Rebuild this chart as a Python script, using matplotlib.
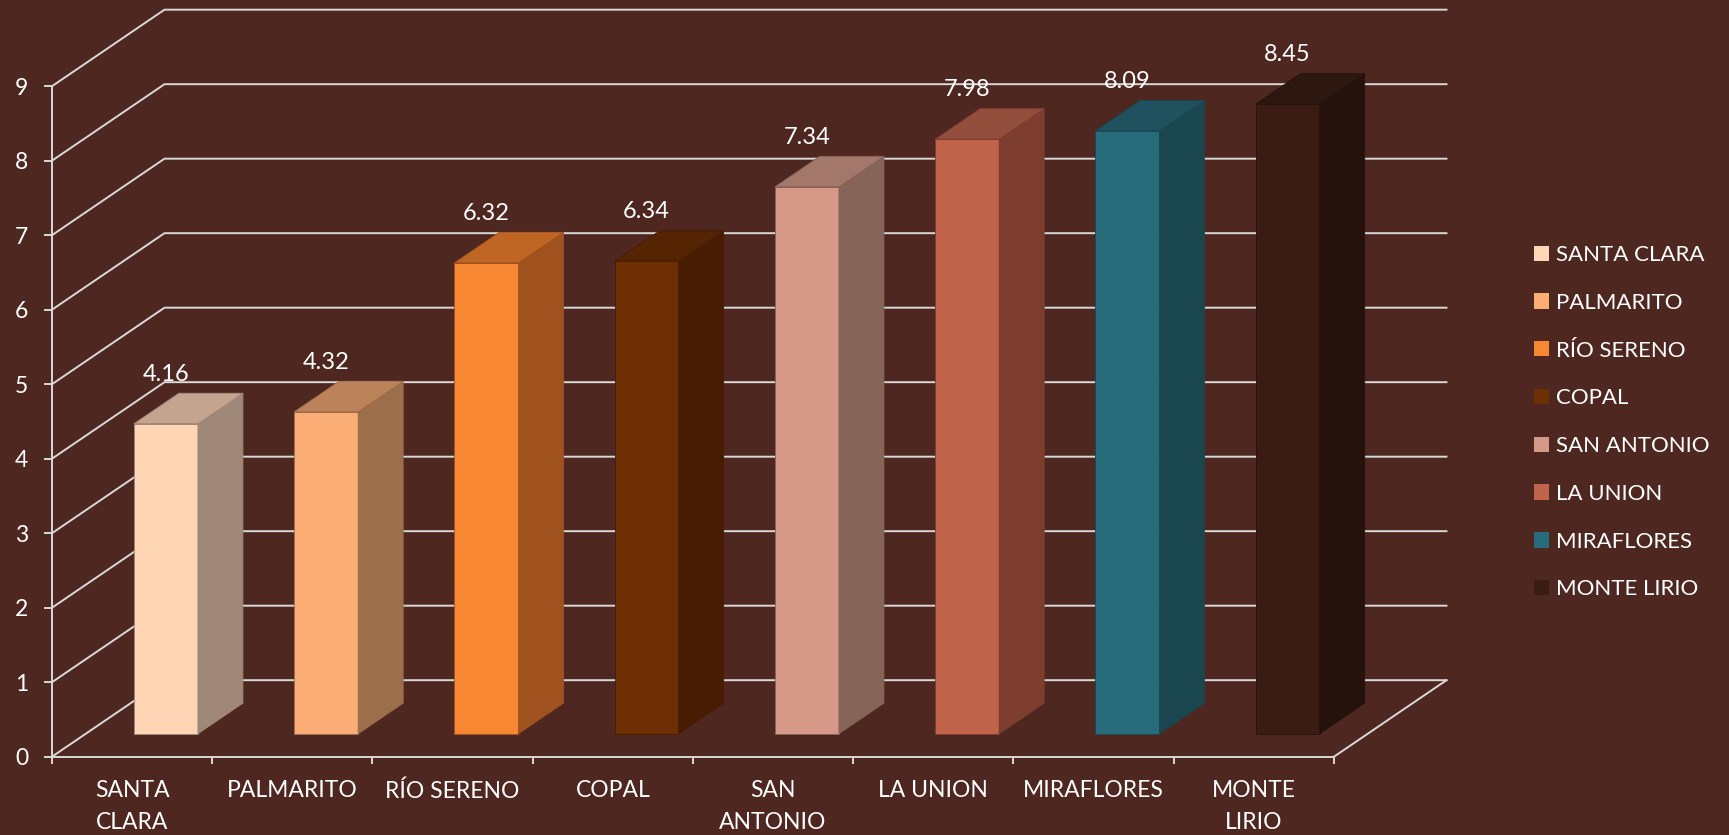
import matplotlib.pyplot as plt
from matplotlib.patches import Patch

categories = ['SANTA CLARA', 'PALMARITO', 'RÍO SERENO', 'COPAL',
              'SAN ANTONIO', 'LA UNION', 'MIRAFLORES', 'MONTE LIRIO']
tick_labels = ['SANTA\nCLARA', 'PALMARITO', 'RÍO SERENO', 'COPAL',
               'SAN\nANTONIO', 'LA UNION', 'MIRAFLORES', 'MONTE\nLIRIO']
values = [4.16, 4.32, 6.32, 6.34, 7.34, 7.98, 8.09, 8.45]
yticks = list(range(10))

front_colors = ['#FED6B6', '#FAAE76', '#F88731', '#6F2F05',
                '#D69887', '#C0654C', '#276C7B', '#3A1C15']
side_colors = ['#A08878', '#9C6E4A', '#A0521E', '#471C02',
               '#876458', '#7D3D2F', '#1A4650', '#25120D']
top_colors = ['#C4A48E', '#BC825A', '#BF6624', '#552403',
              '#A3786B', '#934E3C', '#1F525E', '#2D1711']

bg = '#4E2720'
grid_c = '#D9D9D9'
plt.rcParams['font.family'] = ['Lato', 'DejaVu Sans']

DX, DY = 0.702, 1.027   # offset of back wall (category units, value units)
D0, D1 = 0.30, 0.70     # depth span of the bars
BW = 0.4                # bar width
n = len(categories)

fig = plt.figure(figsize=(17.29, 8.35), dpi=100, facecolor=bg)
ax = fig.add_axes([0, 0, 1, 1])
ax.set_facecolor(bg)
ax.set_xlim(-0.3245, 10.465)
ax.set_ylim(-1.051, 10.157)

# walls / gridlines
for v in yticks:
    ax.plot([0, DX, n + DX], [v, v + DY, v + DY], color=grid_c, lw=1.4, zorder=1)
ax.plot([n, n + DX], [0, DY], color=grid_c, lw=1.4, zorder=1)

# 3d-looking bars
ddx, ddy = (D1 - D0) * DX, (D1 - D0) * DY
for i, (v, fc, sc, tc) in enumerate(zip(values, front_colors, side_colors, top_colors)):
    x0 = i + 0.5 - BW / 2 + D0 * DX
    y0 = D0 * DY
    front = [(x0, y0), (x0 + BW, y0), (x0 + BW, y0 + v), (x0, y0 + v)]
    side = [(x0 + BW, y0), (x0 + BW + ddx, y0 + ddy),
            (x0 + BW + ddx, y0 + ddy + v), (x0 + BW, y0 + v)]
    top = [(x0, y0 + v), (x0 + BW, y0 + v),
           (x0 + BW + ddx, y0 + v + ddy), (x0 + ddx, y0 + v + ddy)]
    for poly, c in ((front, fc), (side, sc), (top, tc)):
        xs, ys = zip(*poly)
        ax.fill(xs, ys, facecolor=c, edgecolor=sc, lw=0.6, zorder=3)
    ax.text(x0 + BW / 2, y0 + v + ddy + 0.17, f'{v:.2f}', color='white',
            fontsize=17, ha='center', va='baseline', zorder=4)

# axes
for s in ('top', 'right'):
    ax.spines[s].set_visible(False)
ax.spines['left'].set_position(('data', 0))
ax.spines['left'].set_bounds(0, 9)
ax.spines['bottom'].set_position(('data', 0))
ax.spines['bottom'].set_bounds(0, n)
for s in ('left', 'bottom'):
    ax.spines[s].set_color(grid_c)
    ax.spines[s].set_linewidth(1.4)

ax.set_yticks(yticks)
ax.tick_params(axis='y', direction='out', length=6, width=1.4, color=grid_c,
               labelcolor='white', labelsize=16.5, pad=11)
ax.set_xticks(range(n + 1))
ax.set_xticklabels([])
ax.set_xticks([i + 0.5 for i in range(n)], tick_labels, minor=True)
ax.tick_params(axis='x', which='major', direction='out', length=5, width=1.4, color=grid_c)
ax.tick_params(axis='x', which='minor', length=0, labelcolor='white', labelsize=16.5, pad=17)
for lab in ax.get_xticklabels(minor=True):
    lab.set_linespacing(1.6)
    lab.set_multialignment('center')

handles = [Patch(facecolor=c, label=cat) for c, cat in zip(front_colors, categories)]
fig.legend(handles=handles, loc='upper left', bbox_to_anchor=(1534 / 1729, 1 - 245 / 835),
           frameon=False, fontsize=16, labelcolor='white', handlelength=0.68,
           handleheight=0.68, handletextpad=0.3, labelspacing=1.25,
           borderpad=0, borderaxespad=0)

plt.savefig('out.png', facecolor=bg)
